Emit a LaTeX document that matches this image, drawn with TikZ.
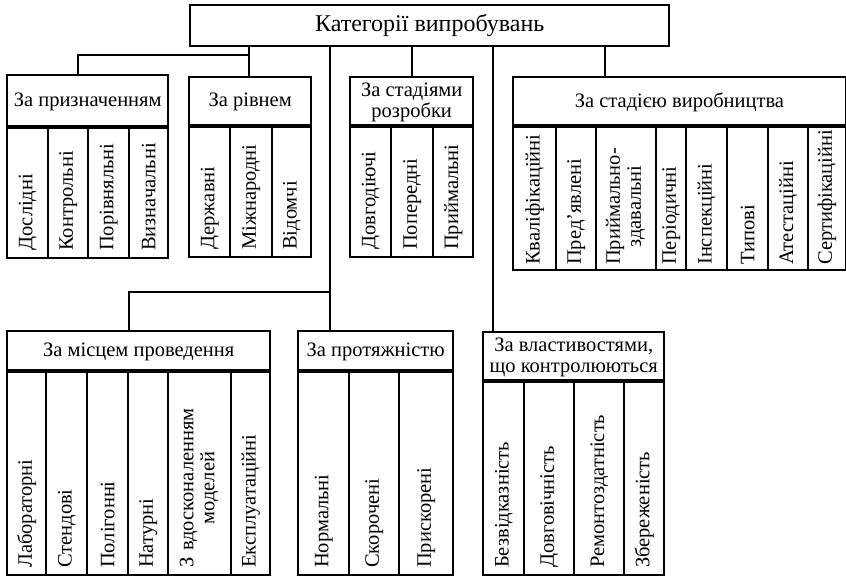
\documentclass[tikz,border=0pt]{standalone}
\usepackage{fontspec}
\setmainfont{Liberation Serif}

\begin{document}
\begin{tikzpicture}[
    x=1pt,y=-1pt,
    grp/.style={draw,line width=2.4pt,anchor=north west,align=center,inner sep=2pt,font=\fontsize{20.5}{21}\selectfont},
    sub/.style={draw,line width=2.4pt,rotate=90,anchor=north west,align=left,inner xsep=7pt,inner ysep=0pt,font=\fontsize{20.5}{21}\selectfont},
    hA/.style={sub,text width=118pt},
    hB/.style={sub,inner xsep=5pt,text width=135pt},
    hC/.style={sub,text width=191pt},
    hD/.style={sub,text width=181pt},
    conn/.style={line width=2.4pt},
]
\useasboundingbox (0,0) rectangle (846,578);
\node[grp,minimum width=479pt,minimum height=41pt,font=\fontsize{24}{24}\selectfont](Root)at(189,4){Категорії випробувань};
% upper row
\node[grp,minimum width=161pt,minimum height=53pt](G1)at(6,74){За призначенням};
\node[grp,minimum width=122pt,minimum height=50pt](G2)at(188,76){За рівнем};
\node[grp,minimum width=123pt,minimum height=50pt](G3)at(349,76){За стадіями\\розробки};
\node[grp,minimum width=332.5pt,minimum height=50pt](G4)at(512,76){За стадією виробництва};
\node[hA,minimum height=41pt](P1)at(6,259){Дослідні};
\node[hA,minimum height=40pt](P2)at(47,259){Контрольні};
\node[hA,minimum height=41pt](P3)at(87,259){Порівняльні};
\node[hA,minimum height=39pt](P4)at(128,259){Визначальні};
\node[hA,minimum height=41pt](R1)at(188,258){Державні};
\node[hA,minimum height=42pt](R2)at(229,258){Міжнародні};
\node[hA,minimum height=39pt](R3)at(271,258){Відомчі};
\node[hA,minimum height=41pt](D1)at(349,258){Довгодіючі};
\node[hA,minimum height=42pt](D2)at(390,258){Попередні};
\node[hA,minimum height=40pt](D3)at(432,258){Приймальні};
\node[hB,minimum height=43pt](V1)at(512,271){Кваліфікаційні};
\node[hB,minimum height=40pt](V2)at(555,271){Пред’явлені};
\node[hB,minimum height=60pt](V3)at(595,271){\begin{tabular}{@{}c@{}}Приймально-\\здавальні\end{tabular}};
\node[hB,minimum height=30pt](V4)at(655,271){Періодичні};
\node[hB,minimum height=41pt](V5)at(685,271){Інспекційні};
\node[hB,minimum height=41pt](V6)at(726,271){Типові};
\node[hB,minimum height=40pt](V7)at(767,271){Атестаційні};
\node[hB,minimum height=37.5pt](V8)at(807,271){Сертифікаційні};
% lower row
\node[grp,minimum width=263pt,minimum height=41pt](G5)at(6,330){За місцем проведення};
\node[grp,minimum width=155pt,minimum height=41pt](G6)at(297,330){За протяжністю};
\node[grp,minimum width=181pt,minimum height=50pt](G7)at(482,331){За властивостями,\\що контролюються};
\node[hC,minimum height=39pt](M1)at(6,576){Лабораторні};
\node[hC,minimum height=41pt](M2)at(45,576){Стендові};
\node[hC,minimum height=41pt](M3)at(86,576){Полігонні};
\node[hC,minimum height=40pt](M4)at(127,576){Натурні};
\node[hC,minimum height=63pt](M5)at(167,576){\begin{tabular}{@{}c@{}}З вдосконаленням\\моделей\end{tabular}};
\node[hC,minimum height=39pt](M6)at(230,576){Експлуатаційні};
\node[hC,minimum height=51pt](L1)at(297,576){Нормальні};
\node[hC,minimum height=50pt](L2)at(348,576){Скорочені};
\node[hC,minimum height=54pt](L3)at(398,576){Прискорені};
\node[hD,minimum height=41pt](K1)at(482,576){Безвідказність};
\node[hD,minimum height=50pt](K2)at(523,576){Довговічність};
\node[hD,minimum height=50pt](K3)at(573,576){Ремонтоздатність};
\node[hD,minimum height=40pt](K4)at(623,576){Збереженість};
% connectors
\coordinate(J1)at(249,55);
\coordinate(J2)at(330,292);
\coordinate(J4)at(493,45);
\coordinate(J5)at(605,45);
\draw[conn](Root.south -| J1)--(G2.north -| J1);
\draw[conn](J1)-|([xshift=-9.5pt]G1.north);
\draw[conn](Root.south -| J2)--(G6.north -| J2);
\draw[conn](J2)-|([xshift=-9.5pt]G5.north);
\draw[conn](Root.south -| G3.north)--(G3.north);
\draw[conn](Root.south -| J4)--(G7.north -| J4);
\draw[conn](Root.south -| J5)--(G4.north -| J5);
\end{tikzpicture}
\end{document}
